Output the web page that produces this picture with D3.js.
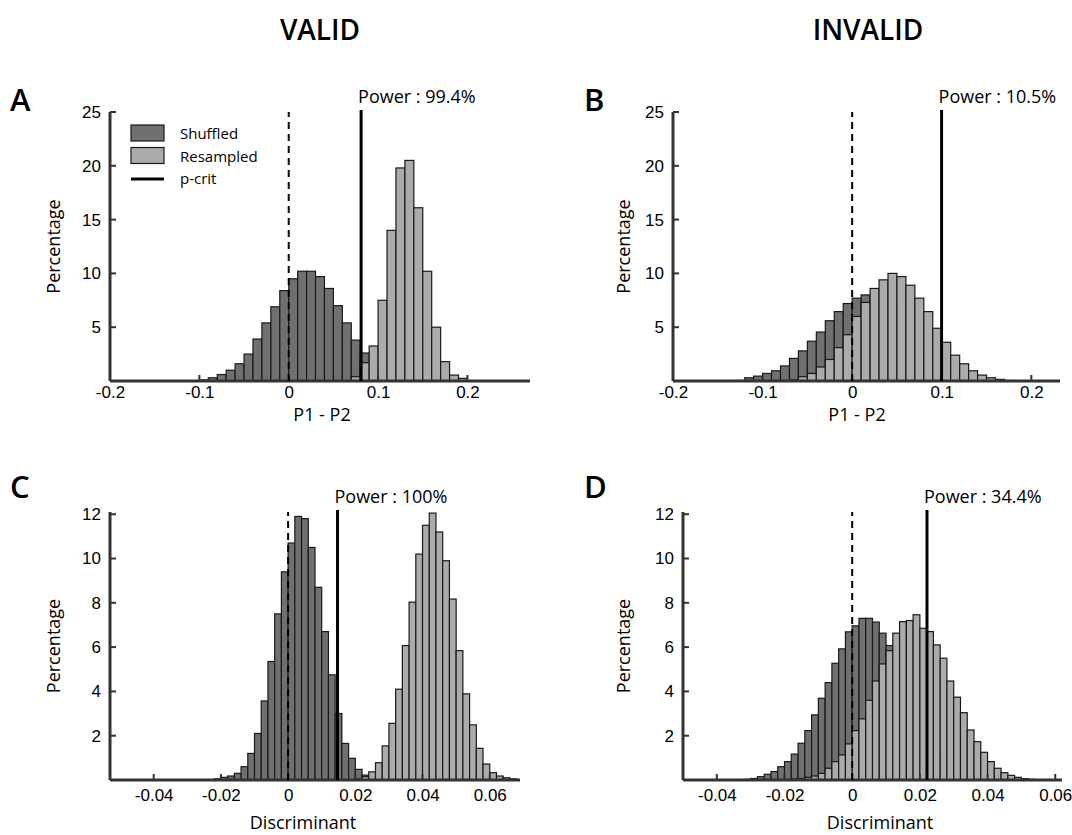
<!DOCTYPE html>
<html>
<head>
<meta charset="utf-8">
<script src="https://cdn.jsdelivr.net/npm/d3@7"></script>
<style>
  html, body { margin: 0; padding: 0; background: #fff; }
  svg { display: block; font-family: "Open Sans", "Noto Sans", sans-serif; }
</style>
</head>
<body>
<svg id="fig" width="1072" height="835"></svg>
<script>
// ---- Histogram data (percentage per bin) ----
// Panel A: VALID, P1 - P2, bins of 0.01
const binWidthA = 0.01;
const shuffledStartA = -0.10;
const shuffledA = [0.1, 0.3, 0.6, 1.0, 1.6, 2.5, 3.9, 5.4, 6.9, 8.4, 9.5, 10.2, 10.2, 9.7, 8.6, 7.0, 5.4, 3.8, 2.6, 1.5, 0.8, 0.4, 0.2, 0.1];
const resampledStartA = 0.07;
const resampledA = [0.4, 1.7, 3.25, 7.5, 14.0, 19.8, 20.5, 16.1, 10.2, 5.0, 1.8, 0.55, 0.25];
const critA = 0.081;
const powerA = "99.4%";

// Panel B: INVALID, P1 - P2, bins of 0.01
const binWidthB = 0.01;
const shuffledStartB = -0.13;
const shuffledB = [0.05, 0.3, 0.45, 0.7, 0.95, 1.4, 2.1, 2.8, 3.7, 4.55, 5.6, 6.45, 7.2, 7.7, 8.0, 7.9, 7.5, 6.9, 6.0, 5.0, 3.9, 2.9, 2.0, 1.3, 0.8, 0.4, 0.2];
const resampledStartB = -0.07;
const resampledB = [0.1, 0.4, 0.7, 1.3, 2.0, 3.1, 4.3, 6.0, 7.3, 8.6, 9.4, 10.0, 9.7, 8.9, 7.7, 6.45, 4.9, 3.6, 2.4, 1.6, 0.95, 0.55, 0.3, 0.15, 0.05];
const critB = 0.0998;
const powerB = "10.5%";

// Panel C: VALID, Discriminant, bins of 0.002
const binWidthC = 0.002;
const shuffledStartC = -0.022;
const shuffledC = [0.05, 0.12, 0.18, 0.3, 0.6, 1.2, 2.1, 3.57, 5.35, 7.5, 9.4, 10.7, 11.9, 11.8, 10.5, 8.7, 6.7, 4.75, 3.0, 1.65, 0.98, 0.48, 0.22, 0.1];
const resampledStartC = 0.020;
const resampledC = [0.05, 0.15, 0.37, 0.78, 1.54, 2.56, 4.1, 6.07, 8.03, 10.2, 11.5, 12.05, 11.2, 9.9, 8.17, 5.84, 3.89, 2.49, 1.43, 0.72, 0.33, 0.18, 0.1, 0.05];
const critC = 0.0147;
const powerC = "100%";

// Panel D: INVALID, Discriminant, bins of 0.002
const binWidthD = 0.002;
const shuffledStartD = -0.032;
const shuffledD = [0.03, 0.07, 0.15, 0.26, 0.38, 0.6, 0.83, 1.17, 1.66, 2.23, 2.94, 3.69, 4.4, 5.27, 5.92, 6.69, 6.96, 7.3, 7.3, 7.13, 6.63, 6.07, 5.4, 4.6, 3.8, 3.0, 2.3, 1.7, 1.2, 0.8, 0.5, 0.3, 0.2, 0.1];
const resampledStartD = -0.018;
const resampledD = [0.05, 0.07, 0.12, 0.18, 0.3, 0.53, 0.83, 1.13, 1.63, 2.23, 2.76, 3.6, 4.47, 5.24, 5.84, 6.63, 7.15, 7.2, 7.46, 6.85, 6.7, 6.1, 5.5, 4.47, 3.74, 3.04, 2.26, 1.73, 1.25, 0.83, 0.53, 0.33, 0.21, 0.12, 0.06, 0.03];
const critD = 0.0221;
const powerD = "34.4%";

// Axis ticks
const xTicksDiff = [-0.2, -0.1, 0, 0.1, 0.2];
const xTicksDisc = [-0.04, -0.02, 0, 0.02, 0.04, 0.06];
const yTicksTop = [5, 10, 15, 20, 25];
const yTicksBottom = [2, 4, 6, 8, 10, 12];

const columnTitles = ["VALID", "INVALID"];
const legendLabels = ["Shuffled", "Resampled", "p-crit"];

// ---- Styling ----
const darkFill = "#707070";
const lightFill = "#ababab";
const barStroke = "#1a1a1a";
const axisColor = "#333";
const textColor = "#000";

const svg = d3.select("#fig");

function toBins(start, width, values) {
  return values.map((v, i) => ({ x0: start + i * width, x1: start + (i + 1) * width, v }));
}

function drawPanel(cfg) {
  const g = svg.append("g");
  const x = d3.scaleLinear().domain(cfg.xDomain).range(cfg.xRange);
  const y = d3.scaleLinear().domain(cfg.yDomain).range(cfg.yRange);
  const [x0, x1] = cfg.xRange;
  const [yb, yt] = cfg.yRange;

  // bars: shuffled underneath, resampled drawn over it
  const series = [
    { bins: toBins(cfg.shStart, cfg.bw, cfg.shuffled), fill: darkFill },
    { bins: toBins(cfg.reStart, cfg.bw, cfg.resampled), fill: lightFill }
  ];
  series.forEach(s => {
    g.append("g").selectAll("rect").data(s.bins).join("rect")
      .attr("x", d => x(d.x0))
      .attr("width", d => x(d.x1) - x(d.x0))
      .attr("y", d => y(d.v))
      .attr("height", d => y(0) - y(d.v))
      .attr("fill", s.fill)
      .attr("stroke", barStroke)
      .attr("stroke-width", 1.2);
  });

  // x axis
  const xAxis = d3.axisBottom(x).tickValues(cfg.xTicks).tickSize(0).tickPadding(cfg.xTickPad)
    .tickFormat(d => d === 0 ? "0" : String(+d.toFixed(3)));
  const gx = g.append("g").attr("transform", `translate(0,${yb})`).call(xAxis);
  gx.select(".domain").remove();
  gx.selectAll("text").attr("font-size", 17).attr("fill", textColor);
  g.append("g").selectAll("line").data(cfg.xTicks).join("line")
    .attr("x1", d => x(d)).attr("x2", d => x(d))
    .attr("y1", yb).attr("y2", yb - 6)
    .attr("stroke", axisColor).attr("stroke-width", 2);
  g.append("line").attr("x1", x0).attr("x2", x1).attr("y1", yb).attr("y2", yb)
    .attr("stroke", axisColor).attr("stroke-width", 3);

  // y axis
  const yAxis = d3.axisLeft(y).tickValues(cfg.yTicks).tickSize(0).tickPadding(9)
    .tickFormat(d3.format("d"));
  const gy = g.append("g").attr("transform", `translate(${x0},0)`).call(yAxis);
  gy.select(".domain").remove();
  gy.selectAll("text").attr("font-size", 17).attr("fill", textColor);
  g.append("g").selectAll("line").data(cfg.yTicks).join("line")
    .attr("x1", x0).attr("x2", x0 + 6)
    .attr("y1", d => y(d)).attr("y2", d => y(d))
    .attr("stroke", axisColor).attr("stroke-width", 2);
  g.append("line").attr("x1", x0).attr("x2", x0).attr("y1", yb).attr("y2", yt)
    .attr("stroke", axisColor).attr("stroke-width", 3);

  // zero reference and critical value
  g.append("line").attr("x1", x(0)).attr("x2", x(0)).attr("y1", yb).attr("y2", yt)
    .attr("stroke", "#000").attr("stroke-width", 2).attr("stroke-dasharray", "7,5");
  g.append("line").attr("x1", x(cfg.crit)).attr("x2", x(cfg.crit)).attr("y1", yb).attr("y2", yt - 2)
    .attr("stroke", "#000").attr("stroke-width", 3);
  g.append("text").attr("x", x(cfg.crit) - 3).attr("y", yt - 9)
    .attr("font-size", 18).attr("fill", textColor)
    .text("Power : " + cfg.power);

  // axis titles
  g.append("text").attr("x", cfg.xLabelX).attr("y", yb + cfg.xLabelDy)
    .attr("text-anchor", "middle").attr("font-size", 18).attr("fill", textColor)
    .text(cfg.xLabel);
  g.append("text")
    .attr("transform", `translate(${x0 - cfg.yLabelDx},${(yb + yt) / 2}) rotate(-90)`)
    .attr("text-anchor", "middle").attr("font-size", 18).attr("fill", textColor)
    .text("Percentage");

  // panel letter
  g.append("text").attr("x", cfg.letterPos[0]).attr("y", cfg.letterPos[1])
    .attr("font-size", 31).attr("font-weight", 600).attr("fill", textColor)
    .text(cfg.letter);
  return { g, x, y };
}

drawPanel({
  letter: "A", letterPos: [10, 111],
  xDomain: [-0.2, 0.27], xRange: [110, 530],
  yDomain: [0, 25], yRange: [381, 112],
  shuffled: shuffledA, shStart: shuffledStartA, resampled: resampledA, reStart: resampledStartA,
  bw: binWidthA, crit: critA, power: powerA,
  xTicks: xTicksDiff, yTicks: yTicksTop, xLabel: "P1 - P2", xLabelX: 322,
  xTickPad: 5, xLabelDy: 40, yLabelDx: 50
});
drawPanel({
  letter: "B", letterPos: [584, 111],
  xDomain: [-0.2, 0.232], xRange: [673, 1060],
  yDomain: [0, 25], yRange: [381, 112],
  shuffled: shuffledB, shStart: shuffledStartB, resampled: resampledB, reStart: resampledStartB,
  bw: binWidthB, crit: critB, power: powerB,
  xTicks: xTicksDiff, yTicks: yTicksTop, xLabel: "P1 - P2", xLabelX: 857,
  xTickPad: 5, xLabelDy: 40, yLabelDx: 43
});
drawPanel({
  letter: "C", letterPos: [10, 498],
  xDomain: [-0.053, 0.069], xRange: [110, 520],
  yDomain: [0, 12.1], yRange: [780, 512],
  shuffled: shuffledC, shStart: shuffledStartC, resampled: resampledC, reStart: resampledStartC,
  bw: binWidthC, crit: critC, power: powerC,
  xTicks: xTicksDisc, yTicks: yTicksBottom, xLabel: "Discriminant", xLabelX: 303,
  xTickPad: 9, xLabelDy: 49, yLabelDx: 50
});
drawPanel({
  letter: "D", letterPos: [584, 498],
  xDomain: [-0.05, 0.062], xRange: [683, 1062],
  yDomain: [0, 12.1], yRange: [780, 512],
  shuffled: shuffledD, shStart: shuffledStartD, resampled: resampledD, reStart: resampledStartD,
  bw: binWidthD, crit: critD, power: powerD,
  xTicks: xTicksDisc, yTicks: yTicksBottom, xLabel: "Discriminant", xLabelX: 880,
  xTickPad: 9, xLabelDy: 49, yLabelDx: 53
});

// column titles
svg.append("text").attr("x", 320).attr("y", 40).attr("text-anchor", "middle")
  .attr("font-size", 28).attr("font-weight", 600).attr("fill", textColor).text(columnTitles[0]);
svg.append("text").attr("x", 868).attr("y", 40).attr("text-anchor", "middle")
  .attr("font-size", 28).attr("font-weight", 600).attr("fill", textColor).text(columnTitles[1]);

// legend inside panel A
const legend = svg.append("g").attr("transform", "translate(131,125)");
const legendItems = [
  { label: legendLabels[0], kind: "rect", fill: darkFill },
  { label: legendLabels[1], kind: "rect", fill: lightFill },
  { label: legendLabels[2], kind: "line" }
];
legendItems.forEach((d, i) => {
  const yy = i * 22.5;
  if (d.kind === "rect") {
    legend.append("rect").attr("x", 0).attr("y", yy).attr("width", 33).attr("height", 16)
      .attr("fill", d.fill).attr("stroke", barStroke).attr("stroke-width", 1.2);
  } else {
    legend.append("line").attr("x1", 0).attr("x2", 33).attr("y1", yy + 9).attr("y2", yy + 9)
      .attr("stroke", "#000").attr("stroke-width", 3);
  }
  legend.append("text").attr("x", 49).attr("y", yy + 14)
    .attr("font-size", 15).attr("fill", textColor).text(d.label);
});
</script>
</body>
</html>
